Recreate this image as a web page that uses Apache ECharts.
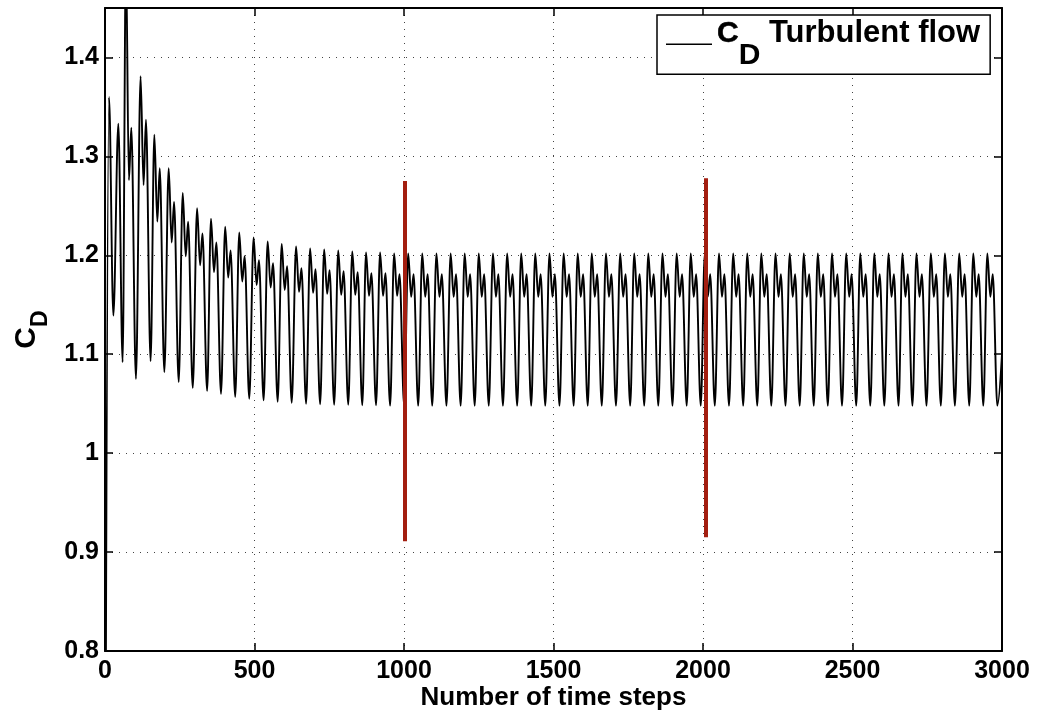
<!DOCTYPE html>
<html><head><meta charset="utf-8">
<script src="https://cdn.jsdelivr.net/npm/echarts@6/dist/echarts.min.js"></script>
<style>html,body{margin:0;padding:0;background:#fff}#c{width:1039px;height:712px}</style>
</head><body><div id="c"></div>
<script>
// ---- data ----
const xTicks = [0, 500, 1000, 1500, 2000, 2500, 3000];
const yTicks = [0.8, 0.9, 1, 1.1, 1.2, 1.3, 1.4];
// start-up transient before the regular cycles
const startT = [0, 13.4, 28, 44.6, 59];
const startCd = [0.5, 1.36, 1.139, 1.333, 1.092];
// time step of each main peak
const peakT = [70,119,165,213,260,308,354.5,402,449,497,544,591,639,686,733,780,827,873,920,967,
  1014,1061,1108.5,1156,1203,1250,1297.5,1345,1392,1439,1486.5,1534,1581,1628,1675.5,1723,1770,1817,1864.5,1912,
  1959,2006,2053.5,2101,2148,2195,2242.5,2290,2337,2384,2431.5,2479,2526,2573,2620.5,2667,2714,2762,2809,2857,
  2904,2951];
// lags (time steps after each main peak) of dip, secondary peak and trough
const dipLag = 10, secLag = 18, troughLag = 33.5;
const peakCd = [1.50,1.381,1.322,1.288,1.263,1.2475,1.237,1.229,1.223,1.218,1.214,1.2115,1.209,1.207,1.206,1.205,1.204,1.203,1.203,1.202,
  1.202,1.202,1.202,1.202,1.202,1.202,1.202,1.202,1.202,1.202,1.202,1.202,1.202,1.202,1.202,1.202,1.202,1.202,1.202,1.202,
  1.202,1.202,1.202,1.202,1.202,1.202,1.202,1.202,1.202,1.202,1.202,1.202,1.202,1.202,1.202,1.202,1.202,1.202,1.202,1.202,
  1.202,1.202];
const dipCd = [1.276,1.271,1.234,1.213,1.199,1.190,1.183,1.1775,1.1735,1.170,1.1675,1.165,1.163,1.162,1.161,1.160,1.160,1.159,1.159,1.159,
  1.158,1.158,1.158,1.158,1.158,1.158,1.158,1.158,1.158,1.158,1.158,1.158,1.158,1.158,1.158,1.158,1.158,1.158,1.158,1.158,
  1.158,1.158,1.158,1.158,1.158,1.158,1.158,1.158,1.158,1.158,1.158,1.158,1.158,1.158,1.158,1.158,1.158,1.158,1.158,1.158,
  1.158,1.158];
const secCd = [1.329,1.337,1.288,1.254,1.234,1.222,1.213,1.205,1.199,1.195,1.192,1.189,1.187,1.186,1.185,1.184,1.183,1.182,1.182,1.181,
  1.181,1.181,1.181,1.181,1.181,1.181,1.181,1.181,1.181,1.181,1.181,1.181,1.181,1.181,1.181,1.181,1.181,1.181,1.181,1.181,
  1.181,1.181,1.181,1.181,1.181,1.181,1.181,1.181,1.181,1.181,1.181,1.181,1.181,1.181,1.181,1.181,1.181,1.181,1.181,1.181,
  1.181,1.181];
const troughCd = [1.075,1.093,1.082,1.072,1.066,1.063,1.060,1.057,1.055,1.0535,1.052,1.051,1.050,1.0495,1.049,1.049,1.0485,1.0485,1.048,1.048,
  1.048,1.048,1.048,1.048,1.048,1.048,1.048,1.048,1.048,1.048,1.048,1.048,1.048,1.048,1.048,1.048,1.048,1.048,1.048,1.048,
  1.048,1.048,1.048,1.048,1.048,1.048,1.048,1.048,1.048,1.048,1.048,1.048,1.048,1.048,1.048,1.048,1.048,1.048,1.048,1.048,
  1.048,1.048];
const endT = 3000, endCd = 1.10;
// red vertical markers
const redT = [1004, 2010];
const redLow = [0.911, 0.915];
const redHigh = [1.275, 1.278];

// ---- build series table ----
const cdData = startT.map((t, i) => [t, startCd[i]]);
peakT.forEach((t, i) => {
  cdData.push([t, peakCd[i]], [t + dipLag, dipCd[i]], [t + secLag, secCd[i]], [t + troughLag, troughCd[i]]);
});
cdData.push([endT, endCd]);

const F = '"Liberation Sans", Arial, Helvetica, sans-serif';
const axisLineStyle = { color: '#000', width: 2 };
const tickStyle = { show: true, inside: true, length: 8, lineStyle: { color: '#000', width: 1.5 } };
const gridLine = { show: true, lineStyle: { color: '#444', width: 1, type: [1, 6] } };
const labelStyle = { color: '#000', fontSize: 25, fontWeight: 700, fontFamily: F };
const pick = (arr, v) => { const m = arr.find(t => Math.abs(t - v) < 1e-6); return m === undefined ? '' : String(m); };

const chart = echarts.init(document.getElementById('c'), null, { renderer: 'canvas' });
chart.setOption({
  animation: false,
  backgroundColor: '#fff',
  grid: { left: 105, right: 37, top: 8, bottom: 61, outerBoundsMode: 'none', containLabel: false },
  legend: {
    show: true, left: 657, top: 15, padding: [3, 10, 4, 9],
    borderColor: '#000', borderWidth: 1.5, backgroundColor: '#fff',
    itemWidth: 46, itemHeight: 1.5, icon: 'rect', selectedMode: false,
    formatter: () => '{c|C}{d|D}{t| Turbulent flow}',
    textStyle: {
      color: '#000', fontFamily: F, fontWeight: 700, fontSize: 30,
      rich: {
        c: { fontSize: 30, fontWeight: 700, fontFamily: F, color: '#000', verticalAlign: 'top', textBorderColor: '#000', textBorderWidth: 0.5 },
        d: { fontSize: 30, fontWeight: 700, fontFamily: F, color: '#000', verticalAlign: 'bottom', lineHeight: 52 },
        t: { fontSize: 31, fontWeight: 700, fontFamily: F, color: '#000', verticalAlign: 'top' }
      }
    }
  },
  xAxis: [{
    type: 'value', min: xTicks[0], max: xTicks[xTicks.length - 1], interval: xTicks[1] - xTicks[0], position: 'bottom',
    axisLine: { show: true, onZero: false, lineStyle: axisLineStyle },
    axisTick: tickStyle,
    axisLabel: Object.assign({ margin: 8, formatter: v => pick(xTicks, v) }, labelStyle),
    splitLine: gridLine,
    name: 'Number of time steps', nameLocation: 'middle', nameGap: 34, nameMoveOverlap: false,
    nameTextStyle: { color: '#000', fontSize: 26, fontWeight: 700, fontFamily: F }
  }, {
    type: 'value', min: xTicks[0], max: xTicks[xTicks.length - 1], interval: xTicks[1] - xTicks[0], position: 'top',
    axisLine: { show: true, onZero: false, lineStyle: axisLineStyle },
    axisTick: tickStyle, axisLabel: { show: false }, splitLine: { show: false }
  }],
  yAxis: [{
    type: 'value', min: 0.8, max: 1.45, interval: 0.1, position: 'left',
    axisLine: { show: true, onZero: false, lineStyle: axisLineStyle },
    axisTick: tickStyle,
    axisLabel: Object.assign({ margin: 6, showMaxLabel: false, formatter: v => pick(yTicks, v) }, labelStyle),
    splitLine: gridLine,
    name: '{c|C}{d|D}', nameLocation: 'middle', nameRotate: 90, nameGap: 53, nameMoveOverlap: false,
    nameTextStyle: {
      color: '#000', fontFamily: F, fontWeight: 700,
      rich: {
        c: { fontSize: 30, fontWeight: 700, fontFamily: F, color: '#000', verticalAlign: 'top' },
        d: { fontSize: 23, fontWeight: 700, fontFamily: F, color: '#000', verticalAlign: 'bottom', lineHeight: 40 }
      }
    }
  }, {
    type: 'value', min: 0.8, max: 1.45, interval: 0.1, position: 'right',
    axisLine: { show: true, onZero: false, lineStyle: axisLineStyle },
    axisTick: tickStyle, axisLabel: { show: false }, splitLine: { show: false }
  }],
  series: [{
    name: 'CD Turbulent flow', type: 'line', xAxisIndex: 0, yAxisIndex: 0,
    data: cdData, symbol: 'none', showSymbol: false, smooth: 0.35, smoothMonotone: 'x',
    lineStyle: { color: '#000', width: 1.9 }, itemStyle: { color: '#000' }, clip: true,
    markLine: {
      silent: true, animation: false, symbol: ['none', 'none'], label: { show: false },
      lineStyle: { color: '#a31e10', width: 4, type: 'solid' },
      emphasis: { disabled: true },
      data: redT.map((t, i) => [{ coord: [t, redLow[i]] }, { coord: [t, redHigh[i]] }])
    }
  }]
});
</script></body></html>
